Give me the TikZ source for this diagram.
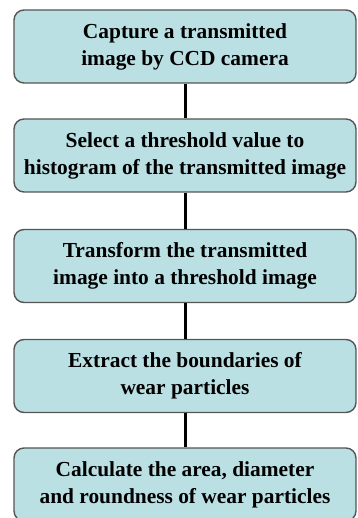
\documentclass[tikz,border=0pt]{standalone}
\usepackage{fontspec}
\setmainfont{Liberation Serif}
\definecolor{boxfill}{RGB}{186,224,228}
\definecolor{boxline}{RGB}{85,85,85}
\begin{document}
\begin{tikzpicture}[x=1pt,y=1pt,
  stepbox/.style={draw=boxline, line width=1.4pt, fill=boxfill,
    rounded corners=10pt, minimum width=342pt, minimum height=73pt,
    align=center, inner sep=0pt,
    font=\fontsize{21.4}{27}\selectfont\bfseries},
  link/.style={line width=3pt, black}]
\useasboundingbox (0,0) rectangle (357,-518);
\node[stepbox] (s1) at (185,-46.5) {Capture a transmitted\\image by CCD camera};
\node[stepbox] (s2) at (185,-155.5) {Select a threshold value to\\histogram of the transmitted image};
\node[stepbox] (s3) at (185,-266) {Transform the transmitted\\image into a threshold image};
\node[stepbox] (s4) at (185,-376) {Extract the boundaries of\\wear particles};
\node[stepbox] (s5) at (185,-484.5) {Calculate the area, diameter\\and roundness of wear particles};
\draw[link] (s1.south) -- (s2.north);
\draw[link] (s2.south) -- (s3.north);
\draw[link] (s3.south) -- (s4.north);
\draw[link] (s4.south) -- (s5.north);
\end{tikzpicture}
\end{document}
